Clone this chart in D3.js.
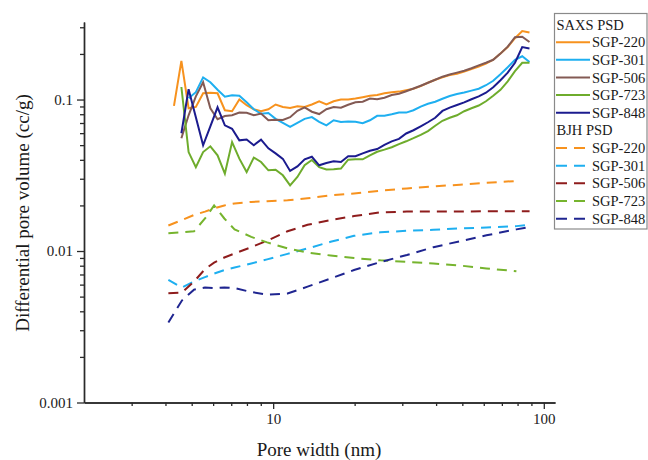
<!DOCTYPE html>
<html><head><meta charset="utf-8">
<script src="https://cdn.jsdelivr.net/npm/d3@7"></script>
<style>body{margin:0;background:#fff}svg{display:block}text{font-family:"Liberation Serif","Times New Roman",serif;fill:#1a1a1a}</style>
</head><body><svg id="c" width="648" height="460"></svg>
<script>
// ---- data ----
const saxsWidth = [4.30, 4.58, 4.87, 5.18, 5.51, 5.86, 6.23, 6.63, 7.05, 7.50, 7.98, 8.48, 9.02, 9.60, 10.21, 10.86, 11.55, 12.29, 13.07, 13.90, 14.79, 15.73, 16.73, 17.80, 18.93, 20.14, 21.42, 22.78, 24.23, 25.77, 27.42, 29.16, 31.01, 32.99, 35.09, 37.32, 39.70, 42.22, 44.91, 47.77, 50.81, 54.04, 57.48, 61.14, 65.03, 69.17, 73.57, 78.25, 83.23, 88.53];
const saxs220 = [0.0907, 0.180, 0.0876, 0.0894, 0.110, 0.111, 0.110, 0.085, 0.0837, 0.100, 0.0917, 0.0863, 0.0837, 0.0863, 0.0927, 0.0894, 0.088, 0.0903, 0.0894, 0.0927, 0.0974, 0.0927, 0.0974, 0.100, 0.100, 0.1015, 0.1036, 0.106, 0.1073, 0.110, 0.1118, 0.1128, 0.1152, 0.1179, 0.1225, 0.129, 0.135, 0.140, 0.145, 0.148, 0.153, 0.159, 0.165, 0.1725, 0.183, 0.201, 0.222, 0.254, 0.283, 0.277];
const saxs301 = [null, null, 0.102, 0.1118, 0.140, 0.130, 0.116, 0.1044, 0.1068, 0.106, 0.096, 0.0863, 0.0806, 0.0816, 0.0746, 0.0702, 0.0661, 0.0702, 0.0746, 0.0766, 0.0713, 0.0676, 0.073, 0.0711, 0.0716, 0.0713, 0.0697, 0.073, 0.0781, 0.0781, 0.0799, 0.082, 0.082, 0.085, 0.0899, 0.0938, 0.0967, 0.1012, 0.1056, 0.1087, 0.1114, 0.1145, 0.1179, 0.1243, 0.133, 0.147, 0.1635, 0.183, 0.193, 0.177];
const saxs506 = [null, 0.0555, 0.0787, 0.105, 0.130, 0.0876, 0.0741, 0.0779, 0.0787, 0.082, 0.0818, 0.0787, 0.0808, 0.073, 0.0735, 0.0733, 0.0764, 0.0843, 0.0889, 0.0831, 0.0802, 0.0863, 0.0892, 0.0883, 0.0924, 0.096, 0.0967, 0.1014, 0.1005, 0.1028, 0.1071, 0.1092, 0.1135, 0.1182, 0.1234, 0.129, 0.135, 0.1415, 0.1463, 0.1506, 0.155, 0.161, 0.168, 0.175, 0.183, 0.201, 0.2235, 0.258, 0.260, 0.240];
const saxs723 = [null, 0.121, 0.045, 0.0358, 0.045, 0.0491, 0.0428, 0.0324, 0.0524, 0.0407, 0.0332, 0.0414, 0.0387, 0.0341, 0.0344, 0.0316, 0.0271, 0.0308, 0.0368, 0.0399, 0.0358, 0.0345, 0.0346, 0.035, 0.0401, 0.0403, 0.0403, 0.0428, 0.0452, 0.0467, 0.0484, 0.0508, 0.053, 0.0556, 0.0585, 0.0619, 0.0671, 0.0724, 0.0758, 0.0787, 0.0837, 0.0876, 0.0913, 0.0974, 0.106, 0.116, 0.132, 0.154, 0.175, 0.175];
const saxs848 = [null, 0.0599, 0.117, 0.0764, 0.0499, 0.0666, 0.0889, 0.0676, 0.0641, 0.0538, 0.0544, 0.0499, 0.0544, 0.0476, 0.0441, 0.0406, 0.0338, 0.0362, 0.0403, 0.0419, 0.0368, 0.0381, 0.0391, 0.0387, 0.0422, 0.0422, 0.0441, 0.0459, 0.0471, 0.0502, 0.053, 0.055, 0.0597, 0.0627, 0.0666, 0.0708, 0.0758, 0.0841, 0.0885, 0.0921, 0.0957, 0.1005, 0.105, 0.1109, 0.1206, 0.1342, 0.1504, 0.175, 0.222, 0.2174];

const bjhWidth = [4.1, 4.6, 5.1, 5.6, 6.05, 6.6, 7.2, 8.3, 9.5, 11.3, 13.4, 16.3, 19.9, 24.9, 31.2, 39.1, 49.0, 61.4, 79.2, 88.6];
const bjh220 = [0.01475, 0.0160, 0.0173, 0.0182, 0.0191, 0.0200, 0.0206, 0.0211, 0.0213, 0.0216, 0.0223, 0.0233, 0.0240, 0.0250, 0.0259, 0.0267, 0.0274, 0.0282, 0.0290, null];
const bjh301 = [0.00645, 0.00574, 0.00629, 0.00673, 0.0071, 0.00749, 0.00778, 0.00827, 0.00881, 0.00958, 0.0104, 0.0115, 0.0126, 0.0133, 0.0136, 0.0138, 0.0141, 0.0143, 0.0146, 0.0149];
const bjh506 = [0.00526, 0.00532, 0.00629, 0.0076, 0.00839, 0.00906, 0.00963, 0.0106, 0.0117, 0.0135, 0.0149, 0.0160, 0.0170, 0.0180, 0.0182, 0.0182, 0.0182, 0.0183, 0.0183, 0.0183];
const bjh723 = [0.0131, 0.0133, 0.0135, 0.0164, 0.0200, 0.0164, 0.0139, 0.0124, 0.0114, 0.0104, 0.00977, 0.00934, 0.00899, 0.00868, 0.00848, 0.00827, 0.00802, 0.00768, 0.00735, null];
const bjh848 = [0.00337, 0.00471, 0.00556, 0.00574, 0.00569, 0.00574, 0.00569, 0.00536, 0.00516, 0.00524, 0.00582, 0.00658, 0.00749, 0.00846, 0.00941, 0.0106, 0.0116, 0.0127, 0.0139, 0.0144];

const sampleNames = ["SGP-220", "SGP-301", "SGP-506", "SGP-723", "SGP-848"];
const saxsColors = ["#F7921E", "#1EAFF0", "#835A54", "#6EAC2C", "#1B1B8E"];
const bjhColors  = ["#F7921E", "#1EAFF0", "#8E1C1C", "#76B42E", "#1F2590"];
const xMajor = [10, 100];
const xMinor = [3, 4, 5, 6, 7, 8, 9, 20, 30, 40, 50, 60, 70, 80, 90];
const yMajor = [0.001, 0.01, 0.1];
const yMajorLabels = ["0.001", "0.01", "0.1"];
const yMinor = [0.002,0.003,0.004,0.005,0.006,0.007,0.008,0.009,0.02,0.03,0.04,0.05,0.06,0.07,0.08,0.09,0.2,0.3];
const xTitle = "Pore width (nm)";
const yTitle = "Differential pore volume (cc/g)";
const legendHeaders = ["SAXS PSD", "BJH PSD"];

// ---- chart ----
const svg = d3.select("#c");
const x = d3.scaleLog().domain([2, 110]).range([84, 555]);
const y = d3.scaleLog().domain([0.001, 0.325]).range([402.5, 22]);

const axisColor = "#2a2a2a";
function styleAxis(g){
  g.selectAll("path.domain").attr("stroke", axisColor).attr("stroke-width", 1.4);
  g.selectAll(".tick line").attr("stroke", axisColor).attr("stroke-width", 1.3);
  g.selectAll(".tick text").style("font-family", '"Liberation Serif","Times New Roman",serif').style("font-size", "15px").attr("fill", "#1a1a1a");
}
// minor ticks
svg.append("g").attr("transform", "translate(0,402.5)")
  .call(d3.axisBottom(x).tickValues(xMinor).tickSize(3.5).tickFormat("").tickSizeOuter(0))
  .call(styleAxis);
svg.append("g").attr("transform", "translate(84,0)")
  .call(d3.axisLeft(y).tickValues(yMinor).tickSize(4).tickFormat("").tickSizeOuter(0))
  .call(styleAxis);
// major
svg.append("g").attr("transform", "translate(0,402.5)")
  .call(d3.axisBottom(x).tickValues(xMajor).tickSize(6.5).tickPadding(4).tickFormat(d3.format("d")).tickSizeOuter(0))
  .call(styleAxis);
svg.append("g").attr("transform", "translate(84,0)")
  .call(d3.axisLeft(y).tickValues(yMajor).tickSize(7).tickPadding(4)
    .tickFormat((d, i) => yMajorLabels[i]).tickSizeOuter(0))
  .call(styleAxis);

// titles
svg.append("text").attr("x", 319).attr("y", 456).attr("text-anchor", "middle")
  .style("font-size", "19px").text(xTitle);
svg.append("text").attr("transform", "translate(29,213) rotate(-90)").attr("text-anchor", "middle")
  .style("font-size", "19px").text(yTitle);

// lines
const line = d3.line().defined(d => d[1] != null).x(d => x(d[0])).y(d => y(d[1]));
const saxsVals = [saxs220, saxs301, saxs506, saxs723, saxs848];
const bjhVals = [bjh220, bjh301, bjh506, bjh723, bjh848];
const dash = "10,7";

const plot = svg.append("g");
bjhVals.forEach((vals, i) => {
  plot.append("path").datum(bjhWidth.map((w, j) => [w, vals[j]]))
    .attr("d", line).attr("fill", "none").attr("stroke", bjhColors[i])
    .attr("stroke-width", 2).attr("stroke-dasharray", dash);
});
saxsVals.forEach((vals, i) => {
  plot.append("path").datum(saxsWidth.map((w, j) => [w, vals[j]]))
    .attr("d", line).attr("fill", "none").attr("stroke", saxsColors[i])
    .attr("stroke-width", 2);
});

// legend
const lg = svg.append("g");
lg.append("rect").attr("x", 554.5).attr("y", 13.5).attr("width", 92.5).attr("height", 215.5)
  .attr("fill", "#fff").attr("stroke", "#8a8a8a").attr("stroke-width", 1.2);
const rowY = k => 24.5 + 17.65 * k;
const groups = [{h: legendHeaders[0], colors: saxsColors, dashed: false},
                {h: legendHeaders[1], colors: bjhColors, dashed: true}];
groups.forEach((gr, gi) => {
  const base = gi * 6;
  lg.append("text").attr("x", 556.5).attr("y", rowY(base)).attr("dy", "0.35em")
    .style("font-size", "14.5px").text(gr.h);
  sampleNames.forEach((nm, i) => {
    const yy = rowY(base + 1 + i);
    lg.append("line").attr("x1", 556).attr("x2", gr.dashed ? 586 : 590)
      .attr("y1", yy).attr("y2", yy).attr("stroke", gr.colors[i]).attr("stroke-width", 2)
      .attr("stroke-dasharray", gr.dashed ? "11,7" : null);
    lg.append("text").attr("x", 592).attr("y", yy).attr("dy", "0.35em")
      .style("font-size", "14.5px").text(nm);
  });
});
</script>
</body></html>
